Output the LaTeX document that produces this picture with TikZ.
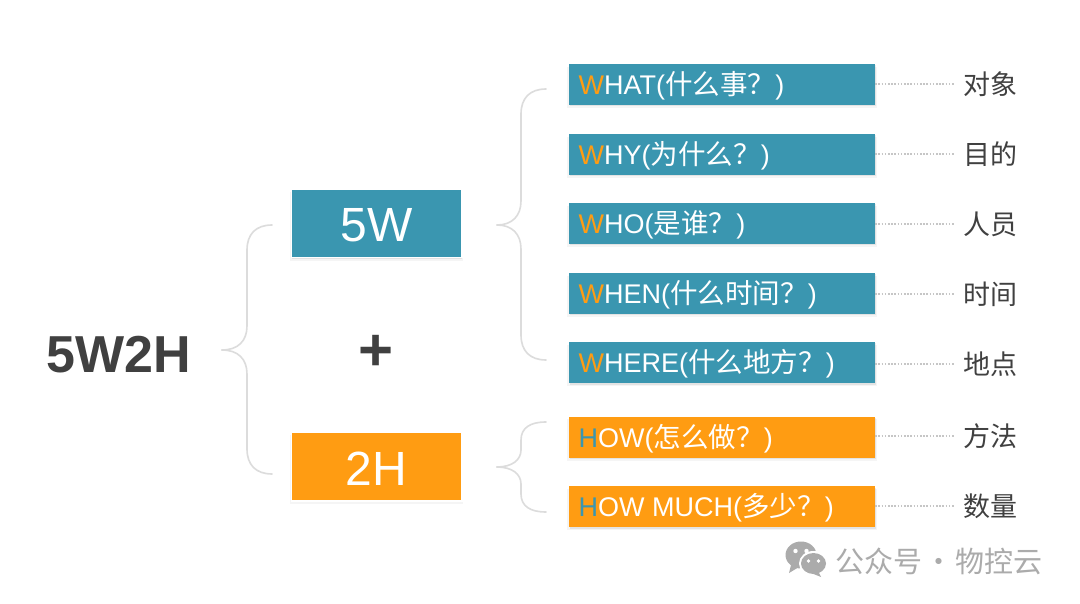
\documentclass[tikz,border=0pt]{standalone}
\usepackage{fontspec}
\setmainfont{Liberation Sans}
\newfontfamily\cjk{Noto Sans CJK SC}
\usetikzlibrary{shadows}
\definecolor{teal5}{HTML}{3A96B0}
\definecolor{orange2}{HTML}{FF9C12}
\definecolor{brace}{HTML}{DCDCDC}
\definecolor{dotline}{HTML}{C6C6C6}
\definecolor{dark}{HTML}{404040}
\definecolor{wm}{HTML}{ABABAB}
\tikzset{
  x=1pt,y=-1pt,
  softshadow/.style={
    general shadow={shadow xshift=0pt,shadow yshift=-3pt,fill=black,opacity=0.04,shadow scale=1.01},
    general shadow={shadow xshift=0.5pt,shadow yshift=-1.5pt,fill=black,opacity=0.07}},
  bigbox/.style={rectangle,draw=white,line width=1.5pt,minimum width=170.5pt,minimum height=68.5pt,inner sep=0,text=white,font=\fontsize{48}{48}\selectfont,softshadow},
  smallbox/.style={rectangle,minimum width=306pt,minimum height=41pt,inner sep=0,text=white,softshadow},
  wbox/.style={smallbox,fill=teal5},
  hbox/.style={smallbox,fill=orange2},
  boxtext/.style={anchor=west,inner sep=0,text=white,font=\fontsize{27}{30}\selectfont},
  sidelabel/.style={inner sep=0,text=dark,font=\cjk\fontsize{27}{30}\selectfont},
  bracket/.style={draw=brace,line width=1.6pt,line cap=round},
  leader/.style={draw=dotline,line width=2pt,dash pattern=on 1.6pt off 1.6pt},
}
\newcommand{\cj}[1]{{\cjk\fontsize{27.5}{30}\selectfont #1}}
\newcommand{\wl}{\textcolor{orange2}{W}}
\newcommand{\hl}{\textcolor{teal5}{H}}
\begin{document}
\begin{tikzpicture}
\useasboundingbox (0,0) rectangle (1080,604);
\fill[white] (0,0) rectangle (1080,604);

\node[inner sep=0,text=dark,font=\bfseries\fontsize{52}{52}\selectfont] (title) at (118.5,355) {5W2H};
\node[bigbox,fill=teal5] (w5) at (376.5,223.5) {\raisebox{-18.5pt}[0pt][0pt]{5W}};
\node[bigbox,fill=orange2] (h2) at (376.5,466.5) {\raisebox{-18.5pt}[0pt][0pt]{2H}};
\node[inner sep=0,text=dark,font=\bfseries\fontsize{60}{60}\selectfont] (plus) at (376,352.5) {+};

\node[wbox] (b1) at (722,84.5) {};
\node[wbox] (b2) at (722,154.5) {};
\node[wbox] (b3) at (722,223.5) {};
\node[wbox] (b4) at (722,293.5) {};
\node[wbox] (b5) at (722,362.5) {};
\node[hbox] (b6) at (722,437) {};
\node[hbox] (b7) at (722,506.5) {};

\node[boxtext] (t1) at (578.5,86) {\wl HAT(\cj{什么事？}\hspace{0.1pt})};
\node[boxtext] (t2) at (578.5,156) {\wl HY(\cj{为什么？}\hspace{0.1pt})};
\node[boxtext] (t3) at (578.5,225) {\wl HO(\cj{是谁？}\hspace{0.1pt})};
\node[boxtext] (t4) at (578.5,295) {\wl HEN(\cj{什么时间？}\hspace{0.1pt})};
\node[boxtext] (t5) at (578.5,364) {\wl HERE(\cj{什么地方？}\hspace{0.1pt})};
\node[boxtext] (t6) at (578.5,438.5) {\hl OW(\cj{怎么做？}\hspace{0.1pt})};
\node[boxtext] (t7) at (578.5,508) {\hl OW MUCH(\cj{多少？}\hspace{0.1pt})};

\node[sidelabel] (l1) at (990,84.5) {对象};
\node[sidelabel] (l2) at (990,154.5) {目的};
\node[sidelabel] (l3) at (990,224.5) {人员};
\node[sidelabel] (l4) at (990,294.5) {时间};
\node[sidelabel] (l5) at (990,364.5) {地点};
\node[sidelabel] (l6) at (990,436.5) {方法};
\node[sidelabel] (l7) at (990,506.5) {数量};

\foreach \i/\y in {1/84.5,2/154.5,3/224,4/294,5/364,6/436,7/506}{
  \coordinate (e\i) at (955,\y);
  \draw[leader] (b\i.east |- e\i) -- (e\i);
}

% braces
\coordinate (tipA) at (222,350); \coordinate (topA) at (272,225); \coordinate (botA) at (272,474);
\draw[bracket] (tipA) .. controls (238,350) and (247,341) .. (247,326) -- (247,250)
   .. controls (247,234) and (256,225) .. (topA);
\draw[bracket] (tipA) .. controls (238,350) and (247,359) .. (247,374) -- (247,449)
   .. controls (247,465) and (256,474) .. (botA);

\coordinate (tipB) at (497,225); \coordinate (topB) at (546,89); \coordinate (botB) at (546,360);
\draw[bracket] (tipB) .. controls (512,225) and (521,216) .. (521,201) -- (521,114)
   .. controls (521,98) and (530,89) .. (topB);
\draw[bracket] (tipB) .. controls (512,225) and (521,234) .. (521,249) -- (521,335)
   .. controls (521,351) and (530,360) .. (botB);

\coordinate (tipC) at (497,467); \coordinate (topC) at (546,422); \coordinate (botC) at (546,512);
\draw[bracket] (tipC) .. controls (512,467) and (521,460) .. (521,450) -- (521,440)
   .. controls (521,428) and (530,422) .. (topC);
\draw[bracket] (tipC) .. controls (512,467) and (521,474) .. (521,484) -- (521,494)
   .. controls (521,506) and (530,512) .. (botC);

% watermark icon
\fill[wm] (801,555) ellipse [x radius=15.5,y radius=13.5];
\fill[wm] (791,565) -- (789,573) -- (799,567) -- cycle;
\fill[white] (813.5,563.5) ellipse [x radius=14.5,y radius=12.5];
\fill[wm] (813.5,563.5) ellipse [x radius=12.5,y radius=10.5];
\fill[wm] (818,571) -- (821,577) -- (811,573) -- cycle;
\fill[white] (795.5,551) circle (2.2) (806.5,551) circle (2.2)
   (808.5,561) circle (1.8) (818.5,561) circle (1.8);
\node[inner sep=0,anchor=west,text=wm,font=\cjk\fontsize{29}{30}\selectfont] (wmk) at (835.5,561) {公众号\makebox[33pt][c]{·}物控云};
\end{tikzpicture}
\end{document}
